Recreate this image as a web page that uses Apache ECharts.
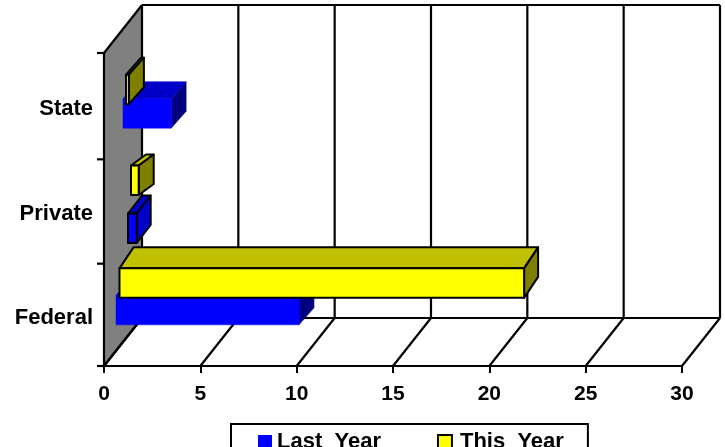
<!DOCTYPE html>
<html>
<head>
<meta charset="utf-8">
<style>html,body{margin:0;padding:0;background:#fff;overflow:hidden}#c{width:725px;height:447px}</style>
<script src="https://cdn.jsdelivr.net/npm/echarts@6/dist/echarts.min.js"></script>
</head>
<body>
<div id="c"></div>
<script>
// Data
const categories = ['Federal', 'Private', 'State'];
const lastYear = [9.5, 0.45, 2.5];
const thisYear = [21, 0.4, 0.15];
const xTicks = [0, 5, 10, 15, 20, 25, 30];
const seriesNames = ['Last  Year', 'This  Year'];

// Drawing style of the pseudo-3D frame and the bars (pixels)
const FONT = '"Liberation Sans", Arial, sans-serif';
const DEPTH = [38, -48];
const BAR_H = 29.5;
const TICK_NUDGE = [0, 2, 2, 0];
const STYLE_LAST = {front: '#0000ff', top: '#0000c8', side: '#000080'};
const STYLE_THIS = {front: '#ffff00', top: '#c0c000', side: '#808000'};
const LAST_PLACE = [
  {dx: 12, dy: 11, ox: 15, oy: -17, line: false},
  {dx: 24, dy: 33.5, ox: 14, oy: -18, line: true, side: '#0000c8'},
  {dx: 19, dy: 23, ox: 15, oy: -17, line: false}
];
const THIS_PLACE = [
  {dx: 15.5, dy: -16, ox: 14, oy: -21, line: true},
  {dx: 27, dy: -14.5, ox: 15, oy: -11, line: true},
  {dx: 22, dy: -1, ox: 15, oy: -17, line: true}
];

function poly(points, fill, line) {
  return {type: 'polygon', shape: {points},
    style: {fill, stroke: line ? '#000' : fill, lineWidth: line ? 2 : 0.5, lineJoin: 'round'}};
}
function seg(a, b) {
  return {type: 'line', shape: {x1: a[0], y1: a[1], x2: b[0], y2: b[1]},
    style: {stroke: '#000', lineWidth: 2.2}};
}
function frameItem(params, api) {
  const band = api.size([0, 1])[1];
  const half = band * categories.length / 2;
  const mid = api.coord([0, 1])[1];
  const at = (t, side) => [api.coord([t, 1])[0], mid + side * half];
  const children = [];
  const f0 = at(0, 1), f1 = at(0, -1);
  const back = p => [p[0] + DEPTH[0], p[1] + DEPTH[1]];
  children.push(poly([f0, back(f0), back(f1), f1], '#808080', false));
  children.push(seg(f0, back(f0)));
  children.push(seg(f1, back(f1)));
  xTicks.forEach(t => {
    const a = at(t, 1), b = at(t, -1);
    children.push(seg(a, back(a)));
    children.push(seg(back(a), back(b)));
  });
  const last = xTicks[xTicks.length - 1];
  children.push(seg(back(f0), back(at(last, 1))));
  children.push(seg(back(f1), back(at(last, -1))));
  TICK_NUDGE.forEach((n, k) => {
    const y = f0[1] - k * band + n;
    children.push(seg([f0[0] - 7, y], [f0[0], y]));
  });
  return {type: 'group', children};
}
function barRenderer(style, places) {
  return function (params, api) {
    const i = api.value(0), v = api.value(1);
    const p = places[i];
    const c0 = api.coord([0, i]), c1 = api.coord([v, i]);
    const l = c0[0] + p.dx, r = c1[0] + p.dx;
    const b = c0[1] + p.dy, t = b - BAR_H;
    const ox = p.ox, oy = p.oy;
    return {type: 'group', children: [
      poly([[l, t], [r, t], [r + ox, t + oy], [l + ox, t + oy]], style.top, p.line),
      poly([[r, t], [r + ox, t + oy], [r + ox, b + oy], [r, b]], p.side || style.side, p.line),
      poly([[l, t], [r, t], [r, b], [l, b]], style.front, p.line)
    ]};
  };
}
function toItems(values) { return values.map((v, i) => [i, v]); }

const labelFont = {fontFamily: FONT, fontWeight: 'bold', fontSize: 22, color: '#000'};
const chart = echarts.init(document.getElementById('c'), null, {renderer: 'canvas'});
chart.setOption({
  animation: false,
  grid: {left: 104, right: 43, top: 53, bottom: 81, containLabel: false},
  legend: {
    left: 231, top: 424, orient: 'horizontal',
    padding: [7, 24, 6, 27],
    borderColor: '#000', borderWidth: 2, backgroundColor: '#fff',
    itemWidth: 14, itemHeight: 14, itemGap: 56,
    selectedMode: false,
    formatter: name => name === seriesNames[1] ? '{pad|' + name + '}' : name,
    textStyle: Object.assign({}, labelFont, {
      rich: {pad: Object.assign({}, labelFont, {padding: [0, 0, 0, 3]})}
    }),
    data: [
      {name: seriesNames[0], icon: 'rect', itemStyle: {color: '#0000ff', borderWidth: 0}},
      {name: seriesNames[1], icon: 'rect', itemStyle: {color: '#ffff00', borderColor: '#000', borderWidth: 2}}
    ]
  },
  xAxis: {
    type: 'value', min: 0, max: 30, interval: 5,
    axisLine: {show: true, onZero: false, lineStyle: {color: '#000', width: 2.2}},
    axisTick: {show: true, length: 7, lineStyle: {color: '#000', width: 2}},
    splitLine: {show: false},
    axisLabel: {color: '#000', fontFamily: FONT, fontWeight: 'bold', fontSize: 21, margin: 18}
  },
  yAxis: {
    type: 'category', data: categories,
    axisLine: {show: true, lineStyle: {color: '#000', width: 2.2}},
    axisTick: {show: false},
    splitLine: {show: false},
    axisLabel: {color: '#000', fontFamily: FONT, fontWeight: 'bold', fontSize: 22, margin: 11, verticalAlign: 'top', lineHeight: 8}
  },
  series: [
    {type: 'custom', name: 'frame', z: -1, silent: true, renderItem: frameItem,
     coordinateSystem: 'cartesian2d', data: [[0, 0]], clip: false},
    {type: 'custom', name: seriesNames[0], z: 3, renderItem: barRenderer(STYLE_LAST, LAST_PLACE),
     encode: {x: 1, y: 0}, data: toItems(lastYear), clip: false},
    {type: 'custom', name: seriesNames[1], z: 4, renderItem: barRenderer(STYLE_THIS, THIS_PLACE),
     encode: {x: 1, y: 0}, data: toItems(thisYear), clip: false}
  ]
});
</script>
</body>
</html>
